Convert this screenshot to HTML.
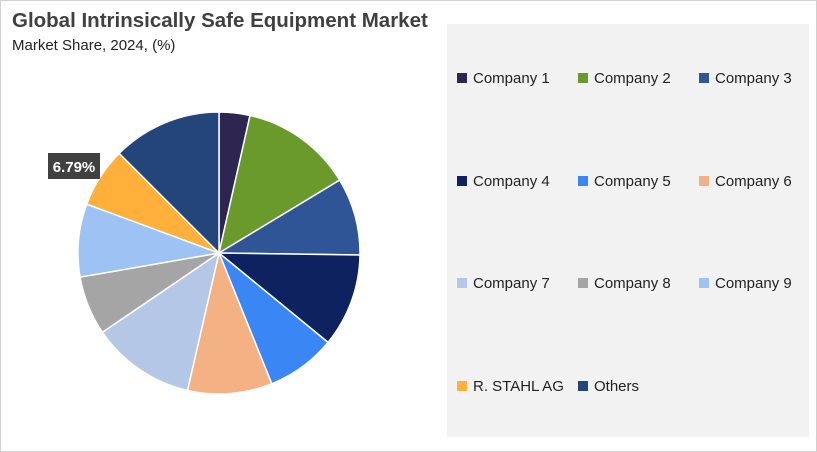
<!DOCTYPE html>
<html><head><meta charset="utf-8"><style>
body{margin:0;width:817px;height:452px;background:#fff;font-family:"Liberation Sans",sans-serif;overflow:hidden}
#frame{position:absolute;left:0;top:0;width:815px;height:450px;border:1px solid #d0d0d0}
#title{position:absolute;left:12px;top:9px;font-size:20.5px;font-weight:bold;color:#404040}
#sub{position:absolute;left:12px;top:37px;font-size:15px;color:#222}
#panel{position:absolute;left:447px;top:24px;width:362px;height:413px;background:#f2f2f2}
.leg{position:absolute;font-size:15px;color:#222;white-space:nowrap}
.sw{display:inline-block;width:10px;height:10px;margin-right:6px}
</style></head><body>
<div id="frame"></div>
<div id="title">Global Intrinsically Safe Equipment Market</div>
<div id="sub">Market Share, 2024, (%)</div>
<div id="panel"></div>
<svg id="pie" width="817" height="452" style="position:absolute;left:0;top:0"></svg>
<div id="legend"></div>
<script>
const categories=["Company 1","Company 2","Company 3","Company 4","Company 5","Company 6","Company 7","Company 8","Company 9","R. STAHL AG","Others"];
const shares=[3.5,12.7,8.8,10.6,7.9,9.6,11.8,6.7,8.3,6.79,12.4];
const colors=["#2e2650","#6a9a2c","#2f5597","#0f2260","#3a86f5","#f4b183","#b4c7e7","#a5a5a5","#9dc3f5","#ffb03b","#24457a"];
const labelIndex=9;
const cx=219,cy=253,r=141;
const svg=document.getElementById('pie');
const NS="http://www.w3.org/2000/svg";
const total=shares.reduce((a,b)=>a+b,0);
function ang(v){return v/total*2*Math.PI;}
function pt(a,rr){return [cx+rr*Math.sin(a),cy-rr*Math.cos(a)];}
let acc=0;
shares.forEach((v,i)=>{
  const a0=ang(acc),a1=ang(acc+v);acc+=v;
  const p0=pt(a0,r),p1=pt(a1,r);
  const p=document.createElementNS(NS,'path');
  p.setAttribute('d',`M${cx},${cy}L${p0[0]},${p0[1]}A${r},${r} 0 ${a1-a0>Math.PI?1:0} 1 ${p1[0]},${p1[1]}Z`);
  p.setAttribute('fill',colors[i]);p.setAttribute('stroke','#fff');p.setAttribute('stroke-width','1.5');
  
  
  svg.appendChild(p);
  if(i===labelIndex){
    const g=document.createElementNS(NS,'g');
    
    
    const rc=document.createElementNS(NS,'rect');
    rc.setAttribute('x',48);rc.setAttribute('y',153);rc.setAttribute('width',52);rc.setAttribute('height',26);rc.setAttribute('fill','#404040');
    const t=document.createElementNS(NS,'text');
    t.setAttribute('x',74);t.setAttribute('y',172);t.setAttribute('text-anchor','middle');
    t.setAttribute('fill','#fff');t.setAttribute('font-size','15');t.setAttribute('font-weight','bold');
    t.setAttribute('font-family','Liberation Sans, sans-serif');
    t.textContent=v.toFixed(2)+'%';
    g.appendChild(rc);g.appendChild(t);svg.appendChild(g);
  }
});
const lg=document.getElementById('legend');
const colX=[457,578,699],rowY=[70,173,275,378];
categories.forEach((c,i)=>{
  const d=document.createElement('div');
  d.className='leg';
  d.style.left=colX[i%3]+'px';d.style.top=rowY[Math.floor(i/3)]+'px';
  d.innerHTML=`<span class="sw" style="background:${colors[i]}"></span>${c}`;
  
  
  lg.appendChild(d);
});
</script>
</body></html>
